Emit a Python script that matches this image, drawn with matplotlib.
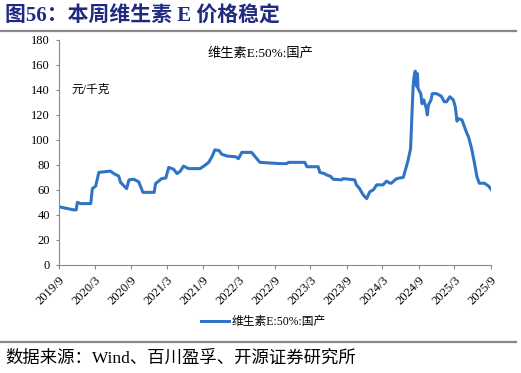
import matplotlib
matplotlib.use("Agg")
import numpy as np
import pandas as pd
import matplotlib.pyplot as plt
from matplotlib.lines import Line2D

plt.rcParams['font.family'] = ['Liberation Serif', 'Noto Sans CJK SC', 'DejaVu Sans']

#%% data (元/千克)
dates = ["2019-09-01", "2019-10-15", "2019-11-15", "2019-11-28", "2019-12-04", "2019-12-20",
         "2020-02-10", "2020-02-18", "2020-03-06", "2020-03-22", "2020-05-20", "2020-06-06",
         "2020-07-01", "2020-07-10", "2020-08-10", "2020-08-22", "2020-09-15", "2020-10-10",
         "2020-11-01", "2020-12-28", "2021-01-04", "2021-02-04", "2021-02-25", "2021-03-12",
         "2021-04-06", "2021-04-23", "2021-05-10", "2021-05-26", "2021-06-21", "2021-08-18",
         "2021-09-06", "2021-10-01", "2021-10-19", "2021-11-01", "2021-11-22", "2021-12-06",
         "2022-01-04", "2022-02-15", "2022-03-01", "2022-03-18", "2022-05-06", "2022-05-25",
         "2022-06-18", "2022-09-28", "2022-11-01", "2022-11-10", "2023-02-01", "2023-02-12",
         "2023-04-10", "2023-04-18", "2023-05-12", "2023-05-21", "2023-06-10", "2023-06-25",
         "2023-08-06", "2023-08-15", "2023-10-12", "2023-10-21", "2023-11-06", "2023-11-24",
         "2023-12-12", "2023-12-28", "2024-01-15", "2024-02-01", "2024-03-04", "2024-03-22",
         "2024-04-06", "2024-04-15", "2024-05-12", "2024-06-15", "2024-06-26", "2024-07-10",
         "2024-07-22", "2024-07-30", "2024-08-04", "2024-08-10", "2024-08-15", "2024-08-21",
         "2024-08-26", "2024-08-29", "2024-09-12", "2024-09-18", "2024-09-27", "2024-10-10",
         "2024-10-15", "2024-10-21", "2024-11-03", "2024-11-09", "2024-12-01", "2024-12-25",
         "2025-01-09", "2025-01-21", "2025-02-06", "2025-02-24", "2025-03-06", "2025-03-15",
         "2025-03-21", "2025-04-09", "2025-04-18", "2025-05-01", "2025-05-13", "2025-05-28",
         "2025-06-12", "2025-06-24", "2025-07-06", "2025-08-01", "2025-08-22", "2025-09-06"]
price = [46.5, 45, 44, 44, 50, 49,
         49, 61, 63, 74, 75, 73,
         71, 66, 61, 68, 68.5, 66.5,
         58, 58, 65, 69, 69.5, 78,
         76.5, 73, 75, 79, 77, 77,
         79, 82, 87, 92, 91.5, 88.5,
         87, 86.5, 85, 90, 90, 86.5,
         82, 81, 81, 82, 82, 78.5,
         78.5, 74, 73, 72, 71, 68.5,
         68, 69, 68, 64, 61, 56,
         53, 58.5, 60, 64, 64, 67,
         65.5, 65.3, 69, 70, 76, 84,
         93, 124, 143, 152, 155, 143,
         153, 141, 137, 129, 132, 125,
         120, 128, 132, 137, 137, 135,
         130.5, 130.5, 134.5, 132, 126.5, 115,
         117, 116, 112, 106.5, 102, 93,
         81, 70.5, 65.3, 65.3, 63, 60]
tick_dates = ["2019-09-01", "2020-03-01", "2020-09-01", "2021-03-01", "2021-09-01",
              "2022-03-01", "2022-09-01", "2023-03-01", "2023-09-01", "2024-03-01",
              "2024-09-01", "2025-03-01", "2025-09-01"]
tick_labels = ["2019/9", "2020/3", "2020/9", "2021/3", "2021/9", "2022/3", "2022/9",
               "2023/3", "2023/9", "2024/3", "2024/9", "2025/3", "2025/9"]
series_name = "维生素E:50%:国产"

x = pd.to_datetime(dates)
xt = pd.to_datetime(tick_dates)

#%% plot
fig = plt.figure(figsize=(5.21, 3.73), dpi=100)
ax = fig.add_axes([0.113, 0.290, 0.830, 0.603])
blue = '#3174C6'
ax.plot(x, price, color=blue, lw=2.2, solid_joinstyle='round')

ax.set_ylim(0, 180)
ax.set_yticks(np.arange(0, 181, 20))
ax.set_xlim(xt[0], xt[-1] + pd.Timedelta(days=4))
ax.set_xticks(xt)
ax.set_xticklabels(tick_labels, rotation=45, ha='right', rotation_mode='anchor')
ax.tick_params(axis='both', labelsize=9, color='#888888', length=3)
ax.tick_params(axis='y', length=2.5, pad=4)
for s in ['top', 'right']:
    ax.spines[s].set_visible(False)
for s in ['left', 'bottom']:
    ax.spines[s].set_color('#888888')
    ax.spines[s].set_linewidth(0.8)

ax.text(0.467, 0.942, series_name, transform=ax.transAxes, ha='center', va='center', fontsize=9.5)
ax.text(0.028, 0.778, "元/千克", transform=ax.transAxes, ha='left', va='center', fontsize=8.5)

h = Line2D([], [], color=blue, lw=2.2)
fig.legend([h], [series_name], loc='center', bbox_to_anchor=(0.505, 0.137), frameon=False,
           fontsize=8.5, handlelength=2.4, handletextpad=0.2)

# title, rules and source
fig.text(0.01, 0.955, "图56：本周维生素 E 价格稳定", fontsize=15, fontweight='bold',
         color='#1F2A80', ha='left', va='center')
fig.add_artist(Line2D([0.0, 0.99], [0.917, 0.917], color='#888888', lw=1.6))
fig.add_artist(Line2D([0.0, 0.99], [0.084, 0.084], color='#888888', lw=1.6))
fig.text(0.01, 0.040, "数据来源：Wind、百川盈孚、开源证券研究所", fontsize=12.5,
         ha='left', va='center')

fig.savefig("out.png", dpi=100)
